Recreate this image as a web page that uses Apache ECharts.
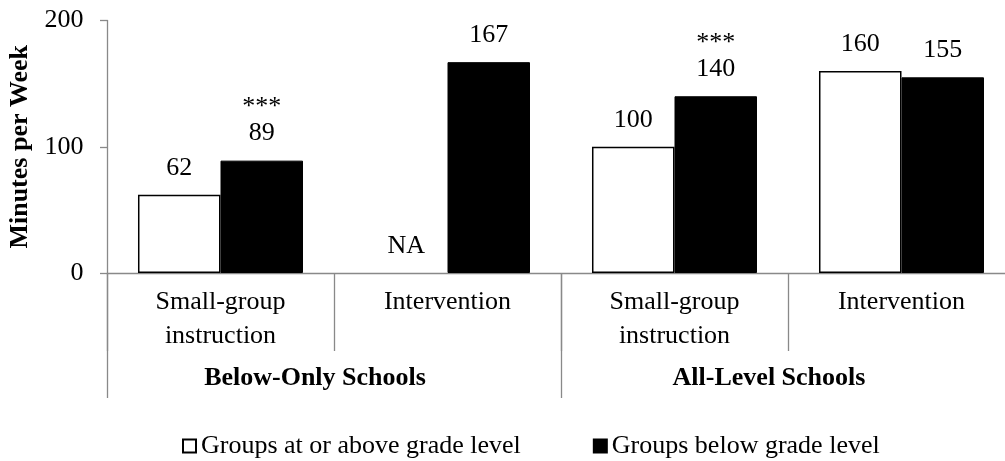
<!DOCTYPE html>
<html>
<head>
<meta charset="utf-8">
<script src="https://cdn.jsdelivr.net/npm/echarts@6/dist/echarts.min.js"></script>
<style>html,body{margin:0;padding:0;background:#fff}#c{width:1005px;height:461px}</style>
</head>
<body>
<div id="c"></div>
<script>
var categories = ['Small-group\ninstruction', 'Intervention', 'Small-group\ninstruction', 'Intervention'];
var schoolTypes = ['Below-Only Schools', 'All-Level Schools'];
var seriesNames = ['Groups at or above grade level', 'Groups below grade level'];
var aboveValues = [62, null, 100, 160];
var belowValues = [89, 167, 140, 155];
var belowSignificance = ['***', '', '***', ''];
var yTicks = [0, 100, 200];

var FONT = '"Liberation Serif", "Times New Roman", serif';
var GRAY = '#898989';

var chart = echarts.init(document.getElementById('c'), null, {renderer: 'canvas'});

var aboveData = aboveValues.map(function (v) {
  if (v === null) {
    return {value: 0, itemStyle: {borderWidth: 0}, label: {formatter: 'NA'}};
  }
  return v;
});

var option = {
  animation: false,
  backgroundColor: '#fff',
  textStyle: {fontFamily: FONT, color: '#000'},
  grid: {left: 107, width: 908, top: 20.5, height: 252.5, outerBoundsMode: 'none', containLabel: false},
  legend: {
    left: 177,
    top: 428,
    itemWidth: 13,
    itemHeight: 13,
    itemGap: 72,
    icon: 'rect',
    textStyle: {fontFamily: FONT, fontSize: 26, color: '#000'},
    data: seriesNames
  },
  xAxis: [
    {
      type: 'category',
      position: 'bottom',
      data: categories,
      boundaryGap: true,
      axisLine: {show: true, lineStyle: {color: GRAY, width: 1.3}},
      axisTick: {show: true, interval: 0, length: 78, lineStyle: {color: GRAY, width: 1.3}},
      axisLabel: {
        interval: 0, margin: 12.5,
        fontFamily: FONT, fontSize: 26, lineHeight: 34, color: '#000'
      }
    },
    {
      type: 'category',
      position: 'bottom',
      data: schoolTypes,
      boundaryGap: true,
      axisLine: {show: false},
      axisTick: {show: true, interval: 0, length: 125, lineStyle: {color: GRAY, width: 1.3}},
      axisLabel: {
        interval: 0, margin: 88.5,
        fontFamily: FONT, fontSize: 26, fontWeight: 'bold', lineHeight: 34, color: '#000',
        padding: [0, 38, 0, 0]
      }
    }
  ],
  yAxis: {
    type: 'value',
    min: yTicks[0],
    max: yTicks[yTicks.length - 1],
    interval: yTicks[1] - yTicks[0],
    name: 'Minutes per Week',
    nameLocation: 'middle',
    nameGap: 73,
    nameTextStyle: {fontFamily: FONT, fontSize: 26, fontWeight: 'bold', color: '#000'},
    axisLine: {show: true, lineStyle: {color: GRAY, width: 1.3}},
    axisTick: {show: true, length: 7, lineStyle: {color: GRAY, width: 1.3}},
    splitLine: {show: false},
    axisLabel: {margin: 23.5, fontFamily: FONT, fontSize: 26, color: '#000'}
  },
  series: [
    {
      name: seriesNames[0],
      type: 'bar',
      xAxisIndex: 0,
      data: aboveData,
      barGap: '0%',
      barCategoryGap: '27.3%',
      itemStyle: {color: '#fff', borderColor: '#000', borderWidth: 1.5},
      label: {
        show: true, position: 'top', distance: 14,
        fontFamily: FONT, fontSize: 26, lineHeight: 26, color: '#000'
      }
    },
    {
      name: seriesNames[1],
      type: 'bar',
      xAxisIndex: 0,
      data: belowValues,
      barGap: '0%',
      barCategoryGap: '27.3%',
      itemStyle: {color: '#000', borderColor: '#000', borderWidth: 1},
      label: {
        show: true, position: 'top', distance: 14,
        fontFamily: FONT, fontSize: 26, lineHeight: 26, color: '#000',
        formatter: function (p) {
          var s = belowSignificance[p.dataIndex];
          return s ? s + '\n' + p.value : String(p.value);
        }
      }
    }
  ]
};
chart.setOption(option);
</script>
</body>
</html>
